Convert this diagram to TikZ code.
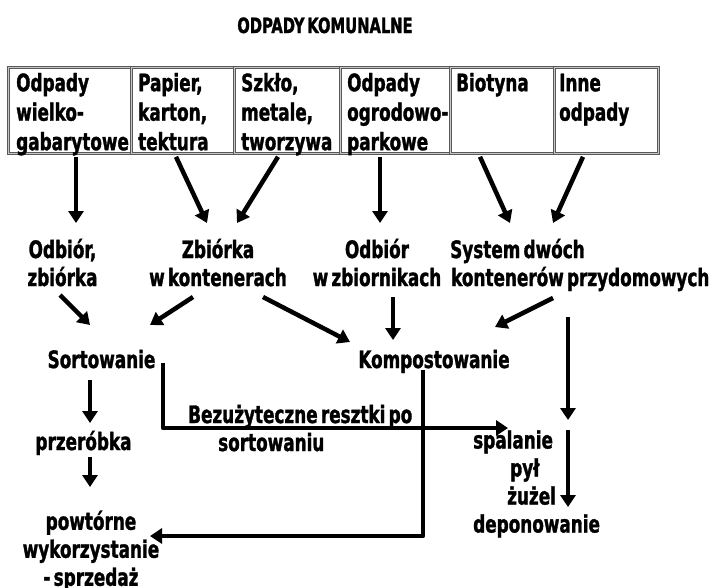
\documentclass[tikz,border=0pt]{standalone}
\usepackage{fontspec}
\newfontfamily\heavy{DejaVu Sans Condensed Bold}[FakeStretch=0.78, FakeBold=1.3, WordSpace=0.55]
\usetikzlibrary{arrows.meta,calc}
% line strut: fixes the height of each text line (default 28pt per line)
\newcommand\rs[1][28]{\rule[-8pt]{0pt}{#1pt}}

\begin{document}
\begin{tikzpicture}[x=1pt,y=-1pt,
  lbl/.style={font=\heavy\fontsize{24}{28}\selectfont, inner sep=0pt, align=center},
  cell/.style={draw=gray!70!black, double=gray!45, double distance=1.8pt,
    line width=0.8pt, anchor=north west, minimum height=86pt, inner sep=0pt},
  arr/.style={line width=4.5pt, -{Triangle[length=12pt,width=15pt]}},
  flow/.style={line width=4.5pt, line join=round},
]
\useasboundingbox (0,0) rectangle (711,587);

% title
\node[lbl, font=\heavy\fontsize{21}{24}\selectfont, anchor=base] (title) at (325,33) {ODPADY KOMUNALNE};

% waste fractions
\node[cell, minimum width=123pt] (c1) at (8,67) {};
\node[cell, minimum width=103pt] (c2) at (131,67) {};
\node[cell, minimum width=106pt] (c3) at (234,67) {};
\node[cell, minimum width=110pt] (c4) at (340,67) {};
\node[cell, minimum width=104pt] (c5) at (450,67) {};
\node[cell, minimum width=104pt] (c6) at (554,67) {};

\node[lbl, align=left, anchor=north west] (t1) at ($(c1.north west)+(8,3.5)$)
  {\rs[28.5]Odpady\\\rs[28.5]wielko-\\\rs[28.5]gabarytowe};
\node[lbl, align=left, anchor=north west] (t2) at ($(c2.north west)+(7,3.5)$)
  {\rs[28.5]Papier,\\\rs[28.5]karton,\\\rs[28.5]tektura};
\node[lbl, align=left, anchor=north west] (t3) at ($(c3.north west)+(7,3.5)$)
  {\rs[28.5]Szkło,\\\rs[28.5]metale,\\\rs[28.5]tworzywa};
\node[lbl, align=left, anchor=north west] (t4) at ($(c4.north west)+(7,3.5)$)
  {\rs[28.5]Odpady\\\rs[28.5]ogrodowo-\\\rs[28.5]parkowe};
\node[lbl, align=left, anchor=north west] (t5) at ($(c5.north west)+(6,3.5)$)
  {\rs[28.5]Biotyna};
\node[lbl, align=left, anchor=north west] (t6) at ($(c6.north west)+(5,3.5)$)
  {\rs[28.5]Inne\\\rs[28.5]odpady};

% collection
\node[lbl] (odb1) at (62.5,266) {\rs Odbiór,\\\rs zbiórka};
\node[lbl] (zb) at (218,266) {\rs Zbiórka\\\rs w kontenerach};
\node[lbl] (odb2) at (377,266) {\rs Odbiór\\\rs w zbiornikach};
\node[lbl, align=left, anchor=west] (sys) at (450,266)
  {\rs System dwóch\\\rs\hspace*{1pt}kontenerów przydomowych};

% processing
\node[lbl] (sort) at (101.5,362) {\rs Sortowanie};
\node[lbl] (komp) at (434,362) {\rs Kompostowanie};
\node[lbl] (przer) at (83.5,444) {\rs przeróbka};
\node[lbl] (powt) at (91,552) {\rs[27.5]powtórne\\\rs[27.5]wykorzystanie\\\rs[27.5]- sprzedaż};
\node[lbl, align=left, anchor=west] (bez) at (188,431)
  {\rs Bezużyteczne resztki po\\\rs\hspace*{30pt}sortowaniu};
\node[lbl, align=left, anchor=west] (spal) at (473,485)
  {\rs[27]spalanie\\\rs[27]\hspace*{37pt}pył\\\rs[27]\hspace*{34pt}żużel\\\rs[27]deponowanie};

% fractions -> collection
\draw[arr] ($(c1.south west)+(68,3)$) -- ($(odb1.center)+(13.5,-43)$);
\draw[arr] ($(c2.south west)+(45,3)$) -- ($(zb.center)+(-11,-43)$);
\draw[arr] ($(c3.south west)+(44,3)$) -- ($(zb.center)+(19,-43)$);
\draw[arr] ($(c4.south west)+(40,3)$) -- ($(odb2.center)+(3,-43)$);
\draw[arr] ($(c5.south west)+(30,3)$) -- ($(sys.west)+(60,-43)$);
\draw[arr] ($(c6.south west)+(29,3)$) -- ($(sys.west)+(103,-43)$);

% collection -> processing
\draw[arr] ($(odb1.center)+(-2.5,29)$) -- ($(sort.center)+(-11.5,-37)$);
\draw[arr] ($(zb.center)+(-25,31)$) -- ($(sort.center)+(48.5,-37)$);
\draw[arr] ($(zb.center)+(45,31)$) -- ($(komp.center)+(-84,-20)$);
\draw[arr] ($(odb2.center)+(16,31)$) -- ($(komp.center)+(-41,-22)$);
\draw[arr] ($(sys.west)+(103,32)$) -- ($(komp.center)+(61,-35)$);
\draw[arr] ($(sys.west)+(118,51)$) -- ($(spal.west)+(95,-65)$);
\draw[arr] ($(spal.west)+(95,-55)$) -- ($(spal.west)+(95,22)$);

% sorting branch
\draw[arr] ($(sort.center)+(-11.5,18)$) -- ($(przer.center)+(6.5,-21)$);
\draw[arr] ($(przer.center)+(6.5,13)$) -- ($(powt.center)+(-1,-65)$);
\draw[flow, -{Triangle[length=12pt,width=15pt]}] ($(sort.center)+(61.5,1)$) |- ($(spal.west)+(35,-57)$);

% compost branch
\draw[flow, -{Triangle[length=12pt,width=15pt]}] ($(komp.center)+(-11,8)$) |- ($(powt.center)+(59,-16)$);
\end{tikzpicture}
\end{document}
